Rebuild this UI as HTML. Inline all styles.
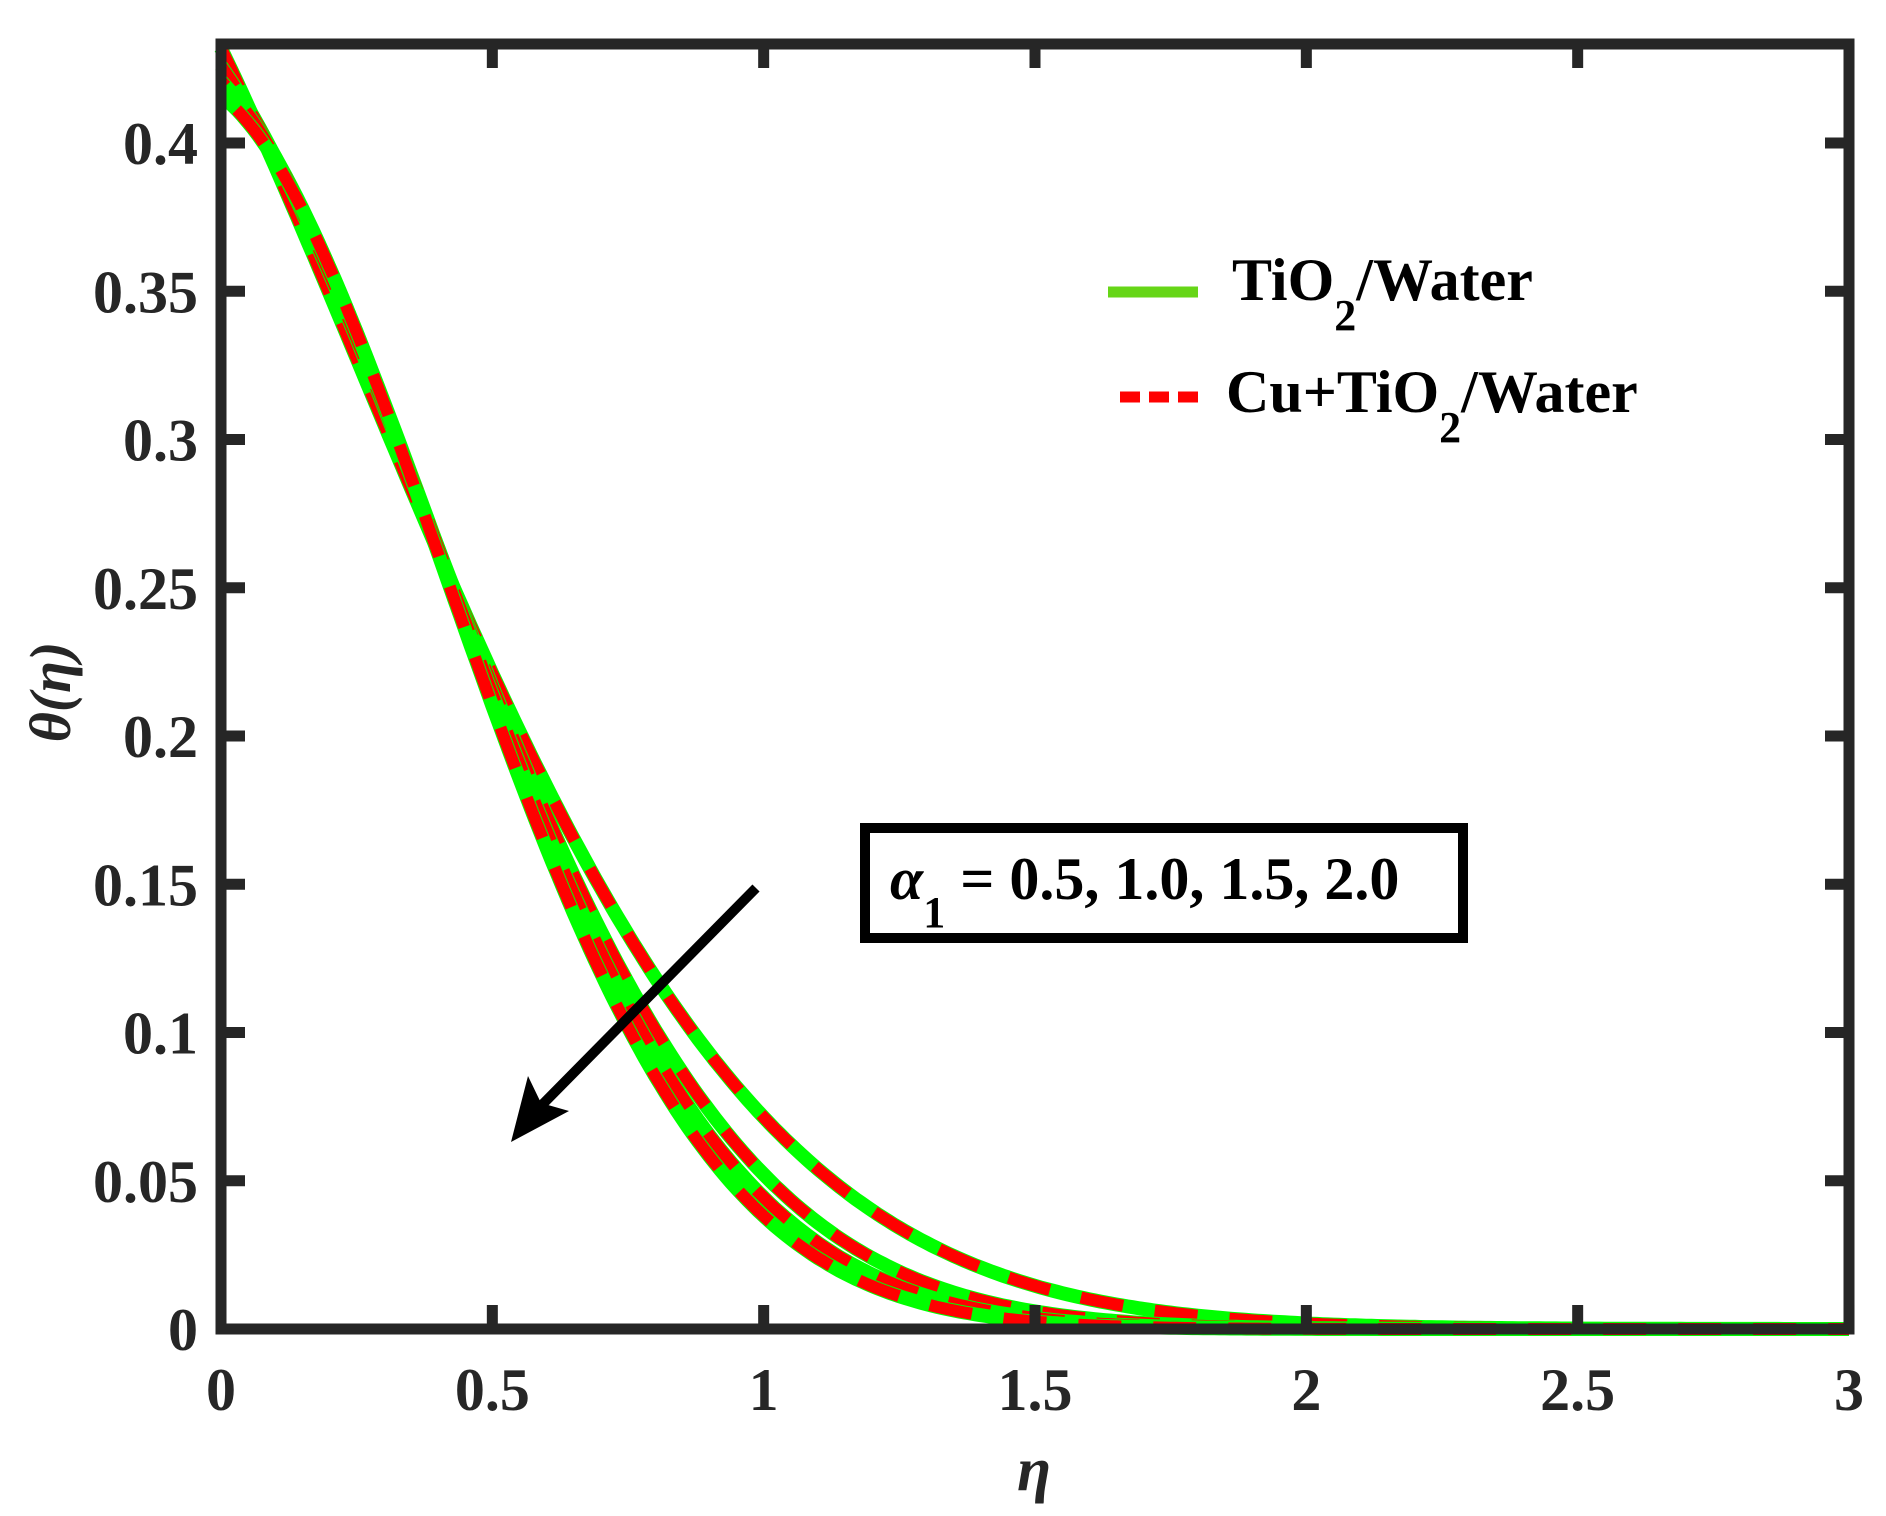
<!DOCTYPE html>
<html><head><meta charset="utf-8"><style>
html,body{margin:0;padding:0;background:#fff;}
svg{display:block;}
text{font-family:"Liberation Serif","DejaVu Serif",serif;font-weight:bold;}
</style></head><body>
<svg id="s" width="1886" height="1516" viewBox="0 0 1886 1516" xmlns="http://www.w3.org/2000/svg">
<rect width="1886" height="1516" fill="#fff"/>
<g id="curves"></g>
<g id="ticks" stroke="#262626" stroke-width="11"></g>
<rect x="221" y="44" width="1628" height="1285" fill="none" stroke="#262626" stroke-width="11"/>
<g id="labels" fill="#262626" font-size="60"></g>
<text x="1034" y="1490" font-size="62" font-style="italic" text-anchor="middle" fill="#262626">η</text>
<text transform="translate(70,692) rotate(-90)" font-size="58" font-style="italic" text-anchor="middle" fill="#262626">θ(η)</text>
<line x1="1108" y1="292" x2="1198" y2="292" stroke="#66d617" stroke-width="11"/>
<text x="1232" y="300" font-size="60" fill="#000">TiO<tspan font-size="44" dy="30">2</tspan><tspan dy="-30">/Water</tspan></text>
<line x1="1120" y1="397" x2="1200" y2="397" stroke="#ff0000" stroke-width="11" stroke-dasharray="20,9"/>
<text x="1226" y="412" font-size="60" fill="#000">Cu+TiO<tspan font-size="44" dy="30">2</tspan><tspan dy="-30">/Water</tspan></text>
<rect x="865" y="828" width="598" height="110" fill="#fff" stroke="#000" stroke-width="10"/>
<text x="890" y="899" font-size="60" fill="#000"><tspan font-style="italic">α</tspan><tspan font-size="44" dy="28">1</tspan><tspan dy="-28"> = 0.5, 1.0, 1.5, 2.0</tspan></text>
<line x1="756" y1="888" x2="535" y2="1112" stroke="#000" stroke-width="10"/>
<polygon points="511,1142 528,1076 541,1103 569,1111" fill="#000"/>
</svg>
<script>
var X=function(e){return 221+e*542.67;}, Y=function(v){return 1329-v*2965;};
var P=[[0.432,0.88,0.92],[0.426,0.6,1.5],[0.421,0.45,1.8],[0.416,0.34,2.05]];
var g=document.getElementById('curves'),h='';
P.forEach(function(p,i){
  var d='';
  for(var k=0;k<=300;k++){var e=k*0.01;var v=p[0]*Math.exp(-p[1]*e-p[2]*e*e);d+=(k?'L':'M')+X(e).toFixed(1)+','+Y(v).toFixed(1);}
  h+='<path d="'+d+'" fill="none" stroke="#00ff00" stroke-width="14"/>';
  h+='<path d="'+d+'" fill="none" stroke="#ff0000" stroke-width="12" stroke-dasharray="43,32" stroke-dashoffset="'+(i*18)+'"/>';
});
g.innerHTML=h;
var t='',l='';
for(var i=0;i<=6;i++){var x=X(i*0.5);
  t+='<line x1="'+x+'" y1="1329" x2="'+x+'" y2="1305"/><line x1="'+x+'" y1="44" x2="'+x+'" y2="68"/>';
  l+='<text x="'+x+'" y="1410" text-anchor="middle">'+['0','0.5','1','1.5','2','2.5','3'][i]+'</text>';}
var yl=['0','0.05','0.1','0.15','0.2','0.25','0.3','0.35','0.4'];
for(var j=0;j<=8;j++){var y=Y(j*0.05);
  t+='<line x1="221" y1="'+y+'" x2="245" y2="'+y+'"/><line x1="1849" y1="'+y+'" x2="1825" y2="'+y+'"/>';
  l+='<text x="198" y="'+(y+21)+'" text-anchor="end">'+yl[j]+'</text>';}
document.getElementById('ticks').innerHTML=t;
document.getElementById('labels').innerHTML=l;
</script>
</body></html>
